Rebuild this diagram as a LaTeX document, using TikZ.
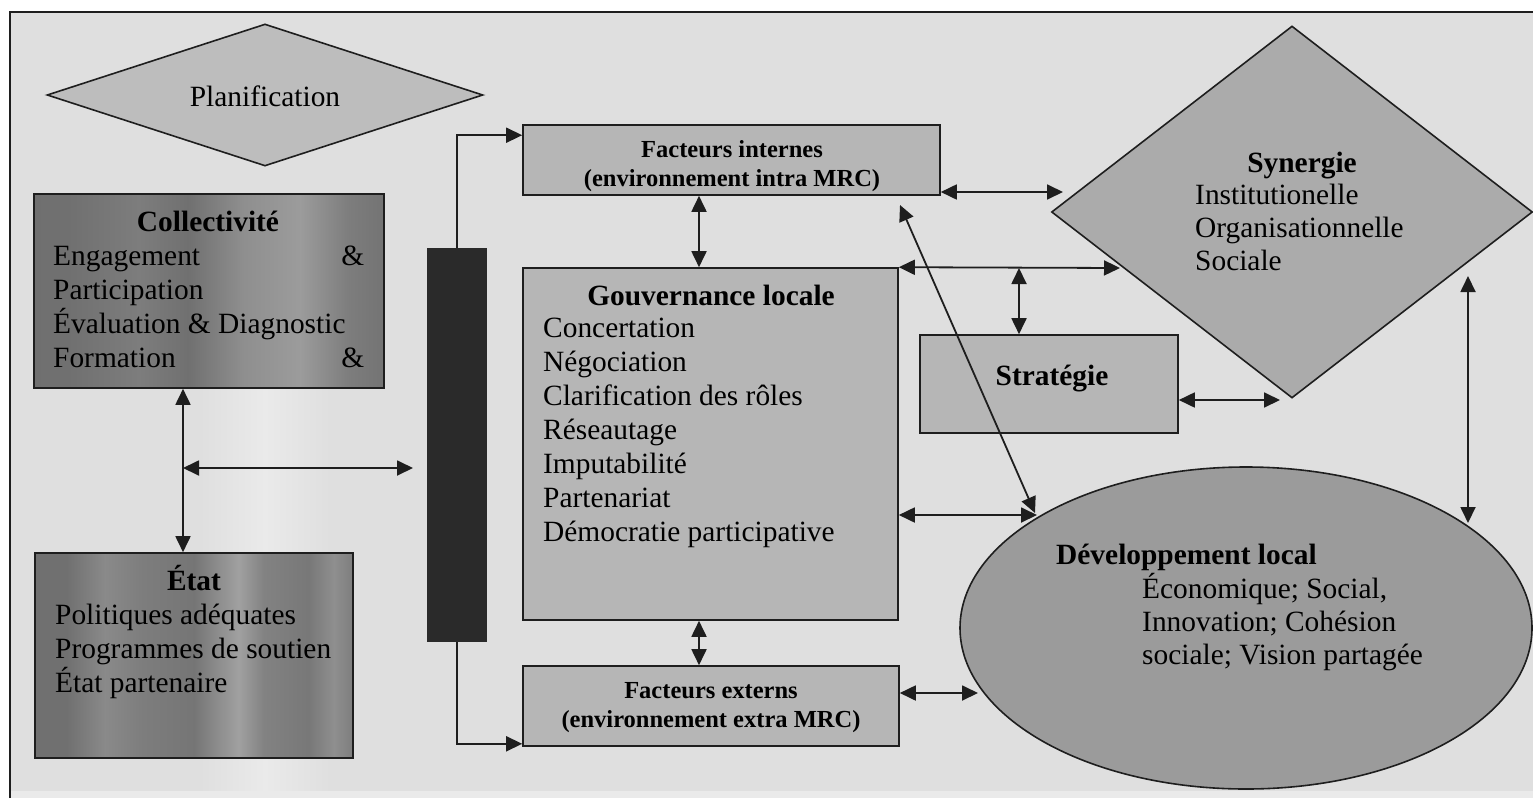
\documentclass[tikz,border=0pt]{standalone}
\usepackage{fontspec}
\setmainfont{Liberation Serif}
\usetikzlibrary{shapes.geometric,arrows.meta,calc}

\definecolor{bgc}{HTML}{DFDFDF}
\definecolor{bglight}{HTML}{EAEAEA}
\definecolor{boxc}{HTML}{B6B6B6}
\definecolor{planc}{HTML}{BDBDBD}
\definecolor{sync}{HTML}{ABABAB}
\definecolor{devc}{HTML}{9B9B9B}
\definecolor{barc}{HTML}{2A2A2A}
\definecolor{linec}{HTML}{1E1E1E}

% streaky dark fills of the two left-hand boxes
\pgfdeclarehorizontalshading{collstreak}{100bp}{color(0bp)=(black!58); color(30bp)=(black!56);
  color(40bp)=(black!51); color(47bp)=(black!56); color(55bp)=(black!44); color(63bp)=(black!39);
  color(70bp)=(black!51); color(78bp)=(black!57); color(85bp)=(black!49); color(90bp)=(black!55);
  color(100bp)=(black!58)}
\pgfdeclarehorizontalshading{etatstreak}{100bp}{color(0bp)=(black!57); color(30bp)=(black!56);
  color(36bp)=(black!46); color(42bp)=(black!51); color(50bp)=(black!54); color(57bp)=(black!37);
  color(61bp)=(black!49); color(68bp)=(black!53); color(72bp)=(black!44); color(76bp)=(black!53);
  color(82bp)=(black!51); color(88bp)=(black!42); color(95bp)=(black!51); color(100bp)=(black!56)}

\newcommand\txtn{\fontsize{29.4pt}{34pt}\selectfont}
\newcommand\txtf{\fontsize{24.5pt}{30pt}\selectfont\bfseries}

\begin{document}
\begin{tikzpicture}[x=1pt,y=-1pt,
  boxline/.style={draw=linec, line width=1.6pt, inner sep=0pt},
  greybox/.style={boxline, fill=boxc},
  darkbox/.style={boxline, shade},
  lbl/.style={anchor=base west, inner sep=0pt, font=\txtn},
  ctr/.style={anchor=base, inner sep=0pt, font=\txtn},
  hdr/.style={anchor=base, inner sep=0pt, font=\txtn\bfseries},
  ftxt/.style={anchor=base, inner sep=0pt, font=\txtf},
  biarrow/.style={draw=linec, line width=1.8pt,
    {Triangle[length=16pt,width=15pt]}-{Triangle[length=16pt,width=15pt]}},
  feed/.style={draw=linec, line width=1.6pt, -{Triangle[length=16pt,width=15pt]}}]

\useasboundingbox (0,0) rectangle (1533,798);

% sheet background and frame
\fill[bgc] (10,12) rectangle (1540,798);
\shade[left color=bgc, right color=bgc, middle color=bglight] (200,380) rectangle (330,790);
\fill[bglight] (10,791) rectangle (1540,798);
\draw[linec, line width=1.5pt] (10,798) -- (10,12) -- (1540,12);

% shapes
\node[diamond, boxline, fill=planc, minimum width=436pt, minimum height=142pt] (plan) at (265,95) {};
\node[darkbox, shading=collstreak, minimum width=350pt, minimum height=194pt] (coll) at (209,291) {};
\node[darkbox, shading=etatstreak, minimum width=318pt, minimum height=205pt] (etat) at (194,655.5) {};
\node[fill=barc, inner sep=0pt, minimum width=60pt, minimum height=394pt] (bar) at (457,445) {};
\node[greybox, minimum width=417pt, minimum height=70pt] (fi) at (731.5,160) {};
\node[greybox, minimum width=375pt, minimum height=352pt] (gl) at (710.5,444) {};
\node[greybox, minimum width=376pt, minimum height=80pt] (fe) at (711,706) {};
\node[greybox, minimum width=258pt, minimum height=98pt] (str) at (1049,384) {};
\node[diamond, boxline, fill=sync, minimum width=481pt, minimum height=372pt] (syn) at (1292,212) {};
\node[ellipse, boxline, fill=devc, minimum width=572pt, minimum height=322pt] (dev) at (1246,628) {};

% helper points for the connectors
\coordinate (colA) at (183,0);
\coordinate (rowA) at (0,468);
\coordinate (barIn) at (413,468);
\coordinate (colB) at (699,0);
\coordinate (synA) at (1063,192);
\coordinate (synB) at (1120,268);
\coordinate (tap) at (1019,268);
\coordinate (synC) at (1280,400);
\coordinate (diagTop) at (900,205);
\coordinate (devA) at (1035,513);
\coordinate (devB) at (1037,515);
\coordinate (devC) at (978,693);
\coordinate (synD) at (1468,276);
\coordinate (devD) at (1468,523);

% connectors
\draw[biarrow] (colA |- coll.south) -- (colA |- etat.north);
\draw[biarrow] (colA |- rowA) -- (barIn);
\draw[feed] (bar.north) |- ($(fi.north west)+(0,11)$);
\draw[feed] (bar.south) |- ($(fe.south west)+(0,-3)$);
\draw[biarrow] (colB |- fi.south) -- (colB |- gl.north);
\draw[biarrow] (colB |- gl.south) -- (colB |- fe.north);
\draw[biarrow] (fi.east |- synA) -- (synA);
\draw[biarrow] (gl.north east) -- (synB);
\draw[biarrow] (tap) -- (tap |- str.north);
\draw[biarrow] (str.east |- synC) -- (synC);
\draw[biarrow] (diagTop) -- (devA);
\draw[biarrow] (gl.east |- devB) -- (devB);
\draw[biarrow] (fe.east |- devC) -- (devC);
\draw[biarrow] (synD) -- (devD);

% texts
\node[ctr] (planT) at (265,106) {Planification};

\node[hdr] (collH) at (208,231) {Collectivité};
\node[lbl] (coll1) at (53,265) {\makebox[311pt][l]{Engagement\hfill\&}};
\node[lbl] (coll2) at (53,299) {Participation};
\node[lbl] (coll3) at (53,333) {Évaluation \& Diagnostic};
\node[lbl] (coll4) at (53,367) {\makebox[311pt][l]{Formation\hfill\&}};

\node[hdr] (etatH) at (194,590) {État};
\node[lbl] (etat1) at (55,624) {Politiques adéquates};
\node[lbl] (etat2) at (55,658) {Programmes de soutien};
\node[lbl] (etat3) at (55,692) {État partenaire};

\node[ftxt] (fiA) at (732,157) {Facteurs internes};
\node[ftxt] (fiB) at (732,186) {(environnement intra MRC)};

\node[hdr] (glH) at (711,305) {Gouvernance locale};
\foreach \t [count=\i from 0] in {Concertation, Négociation, Clarification des rôles,
    Réseautage, Imputabilité, Partenariat, Démocratie participative}
  \node[lbl] (gl\i) at (543,337+34*\i) {\t};

\node[ftxt] (feA) at (711,698) {Facteurs externs};
\node[ftxt] (feB) at (711,727) {(environnement extra MRC)};

\node[hdr] (strT) at (1052,385) {Stratégie};

\node[hdr] (synH) at (1302,172) {Synergie};
\node[lbl] (syn1) at (1195,204) {Institutionelle};
\node[lbl] (syn2) at (1195,237) {Organisationnelle};
\node[lbl] (syn3) at (1195,270) {Sociale};

\node[lbl, font=\txtn\bfseries] (devH) at (1056,564) {Développement local};
\node[lbl] (dev1) at (1142,598) {Économique; Social,};
\node[lbl] (dev2) at (1142,631) {Innovation; Cohésion};
\node[lbl] (dev3) at (1142,664) {sociale; Vision partagée};
\end{tikzpicture}
\end{document}
